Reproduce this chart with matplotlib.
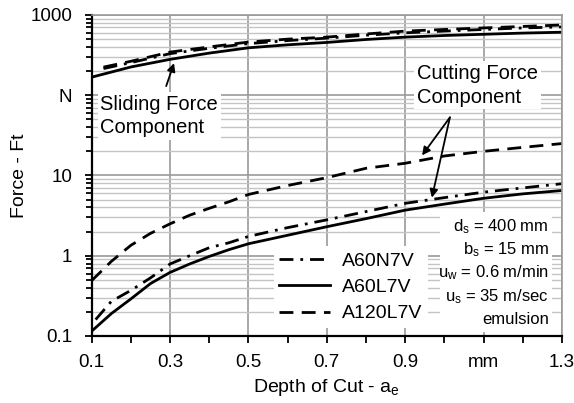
import matplotlib
matplotlib.use("Agg")
import matplotlib.pyplot as plt
from matplotlib.patches import Rectangle
import numpy as np

plt.rcParams['font.family'] = ['Liberation Sans', 'DejaVu Sans']
plt.rcParams['mathtext.fontset'] = 'custom'
plt.rcParams['mathtext.rm'] = 'Liberation Sans'
plt.rcParams['mathtext.it'] = 'Liberation Sans:italic'

# depth of cut (mm)
depth = [0.1, 0.15, 0.2, 0.25, 0.3, 0.35, 0.4, 0.45, 0.5, 0.6, 0.7, 0.8, 0.9, 1.0, 1.1, 1.2, 1.3]
depth_n = [0.11, 0.15, 0.2, 0.25, 0.3, 0.35, 0.4, 0.45, 0.5, 0.6, 0.7, 0.8, 0.9, 1.0, 1.1, 1.2, 1.3]

# cutting force component (N)
cut_l7v = [0.115, 0.19, 0.29, 0.45, 0.62, 0.79, 0.98, 1.19, 1.41, 1.8, 2.3, 2.9, 3.7, 4.4, 5.2, 5.9, 6.5]
cut_n7v = [0.16, 0.27, 0.37, 0.53, 0.79, 1.0, 1.26, 1.45, 1.74, 2.24, 2.8, 3.55, 4.5, 5.3, 6.2, 7.0, 7.9]
cut_120 = [0.49, 0.85, 1.35, 1.9, 2.5, 3.2, 3.9, 4.7, 5.8, 7.5, 9.4, 12.3, 14.2, 17.5, 20, 22.4, 25]

# sliding force component (N)
depth_up = [0.1, 0.2, 0.3, 0.4, 0.5, 0.6, 0.7, 0.8, 0.9, 1.0, 1.1, 1.2, 1.3]
depth_up2 = [0.13, 0.2, 0.3, 0.4, 0.5, 0.6, 0.7, 0.8, 0.9, 1.0, 1.1, 1.2, 1.3]
slide_l7v = [168, 225, 280, 335, 390, 425, 455, 495, 530, 555, 575, 595, 610]
slide_n7v = [215, 255, 330, 385, 440, 480, 515, 560, 600, 630, 660, 690, 710]
slide_120 = [224, 265, 345, 400, 460, 500, 530, 580, 630, 660, 690, 720, 750]

xticks = [0.1, 0.3, 0.5, 0.7, 0.9, 1.1, 1.3]
xlabels = ['0.1', '0.3', '0.5', '0.7', '0.9', 'mm', '1.3']
yticks = [0.1, 1, 10, 100, 1000]
ylabels = ['0.1', '1', '10', 'N', '1000']

params = [r'd$_\mathrm{s}$ = 400 mm', r'b$_\mathrm{s}$ = 15 mm', r'u$_\mathrm{w}$ = 0.6 m/min',
          r'u$_\mathrm{s}$ = 35 m/sec', 'emulsion']

fig = plt.figure(figsize=(5.74, 4.03), dpi=100)
ax = fig.add_axes([0.1598, 0.1663, 0.8193, 0.7965])

dashdot = (0, (5, 2.5, 1, 2.5))
dashed = (0, (5, 3))
lw = 2

ax.plot(depth_n, cut_n7v, color='black', lw=lw, linestyle=dashdot, label='A60N7V')
ax.plot(depth, cut_l7v, color='black', lw=lw, linestyle='-', label='A60L7V')
ax.plot(depth, cut_120, color='black', lw=lw, linestyle=dashed, label='A120L7V')
ax.plot(depth_up2, slide_n7v, color='black', lw=lw, linestyle=dashdot)
ax.plot(depth_up, slide_l7v, color='black', lw=lw, linestyle='-')
ax.plot(depth_up2, slide_120, color='black', lw=lw, linestyle=dashed)

ax.set_yscale('log')
ax.set_xlim(0.1, 1.3)
ax.set_ylim(0.1, 1000)
ax.set_xticks(xticks)
ax.set_xticklabels(xlabels)
ax.set_xticks(np.arange(0.2, 1.3, 0.2), minor=True)
ax.set_yticks(yticks)
ax.set_yticklabels(ylabels)

ax.tick_params(axis='both', which='both', direction='out', labelsize=13.5, width=1.3)
ax.tick_params(axis='x', which='both', length=5, pad=8)
ax.tick_params(axis='y', which='major', length=5, pad=9)
ax.tick_params(axis='y', which='minor', length=4)

ax.grid(True, axis='x', which='major', color='#9a9a9a', lw=1.2)
ax.grid(True, axis='y', which='major', color='#9a9a9a', lw=1.2)
ax.grid(True, axis='y', which='minor', color='#c4c4c4', lw=1.0)
ax.set_axisbelow(True)

for s in ['left', 'bottom']:
    ax.spines[s].set_linewidth(1.6)
for s in ['top', 'right']:
    ax.spines[s].set_color('#9a9a9a')
    ax.spines[s].set_linewidth(1.2)

ax.set_xlabel(r'Depth of Cut - a$_\mathrm{e}$', fontsize=14, labelpad=4)
ax.set_ylabel('Force - Ft', fontsize=14, labelpad=2)

leg = ax.legend(loc='upper left', bbox_to_anchor=(0.366, 0.31), fontsize=14, frameon=True,
                facecolor='white', edgecolor='none', framealpha=1, fancybox=False,
                handlelength=2.6, handletextpad=0.6, labelspacing=0.45, borderpad=0.3)
leg.set_zorder(3)

# parameter block
ax.add_patch(Rectangle((0.74, 0.012), 0.238, 0.375, transform=ax.transAxes,
                       facecolor='white', edgecolor='none', zorder=2))
param_y = [0.340, 0.268, 0.196, 0.121, 0.050]
for txt, yy in zip(params, param_y):
    ax.text(0.972, yy, txt, transform=ax.transAxes, ha='right', va='center', fontsize=12, zorder=4)

box = dict(facecolor='white', edgecolor='none', pad=2)
ax.text(0.122, 55, 'Sliding Force\nComponent', fontsize=14.5, ha='left', va='center',
        linespacing=1.3, bbox=box, zorder=4)
ax.text(0.93, 133, 'Cutting Force\nComponent', fontsize=14.5, ha='left', va='center',
        linespacing=1.3, bbox=box, zorder=4)

arrow = dict(arrowstyle='-|>', color='black', lw=1.3, mutation_scale=12, shrinkA=0, shrinkB=0)
ax.annotate('', xy=(0.31, 251), xytext=(0.29, 130), arrowprops=arrow, zorder=5)
ax.annotate('', xy=(0.943, 17.8), xytext=(1.014, 53), arrowprops=arrow, zorder=5)
ax.annotate('', xy=(0.968, 5.3), xytext=(1.014, 53), arrowprops=arrow, zorder=5)

fig.savefig('out.png', dpi=100)
